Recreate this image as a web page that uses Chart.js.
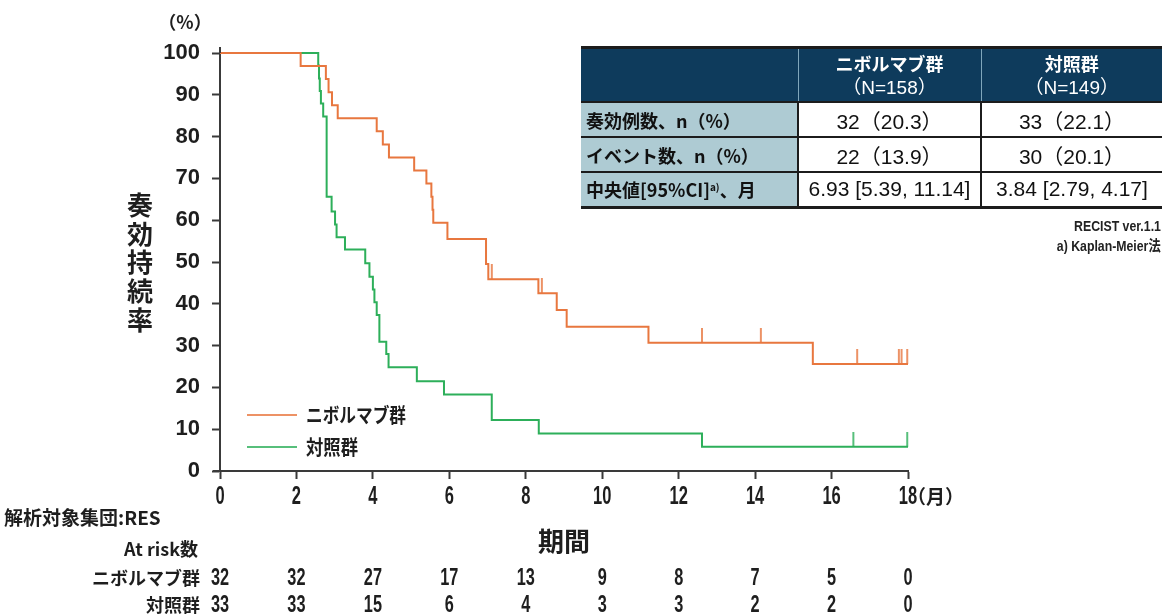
<!DOCTYPE html>
<html lang="ja">
<head>
<meta charset="utf-8">
<title>奏効持続率</title>
<script src="https://cdn.jsdelivr.net/npm/chart.js@4.4.1/dist/chart.umd.min.js"></script>
<style>
  html, body { margin: 0; padding: 0; background: #fff; }
  #wrap { position: relative; width: 1164px; height: 615px; overflow: hidden; }
  #c { position: absolute; left: 0; top: 0; }
  #summary {
    position: absolute; left: 581px; top: 46px; width: 581px;
    border-collapse: collapse; table-layout: fixed;
    font-family: 'Liberation Sans', Arial, 'Noto Sans CJK JP', sans-serif; color: #111;
  }
  #summary th, #summary td { padding: 0; text-align: center; vertical-align: middle; border-bottom: 2px solid #1c1c1c; }
  #summary thead th {
    background: #0e3b5c; color: #fff; font-weight: bold; font-size: 18px; line-height: 23px;
    height: 52px; border-top: 3px solid #1c1c1c;
    font-family: 'Noto Sans CJK JP', sans-serif;
  }
  #summary thead th .n { font-family: 'Liberation Sans', Arial, 'Noto Sans CJK JP', sans-serif; font-size: 19px; font-weight: normal; }
  #summary thead th + th { border-left: 1px solid #7fa6bb; }
  #summary tbody th {
    background: #aecbd3; text-align: left; padding-left: 5px; font-size: 18px; font-weight: bold;
    font-family: 'Noto Sans CJK JP', sans-serif; white-space: nowrap;
  }
  #summary tbody th sup { font-size: 10px; font-weight: bold; vertical-align: 6px; line-height: 0; }
  #summary tbody td { font-size: 21px; border-left: 2px solid #1c1c1c; background: #fff; white-space: nowrap; }
  #summary tbody tr { height: 35px; }
  #summary tbody tr.last > * { border-bottom: 3px solid #1c1c1c; }
  .note {
    position: absolute; right: 3px; font-size: 15px; font-weight: bold; color: #222;
    font-family: 'Liberation Sans', Arial, 'Noto Sans CJK JP', sans-serif;
    white-space: nowrap; transform: scaleX(0.82); transform-origin: right center;
  }
</style>
</head>
<body>
<div id="wrap">
  <canvas id="c" width="1164" height="615"></canvas>
  <table id="summary"></table>
  <div class="note" style="top:217px">RECIST ver.1.1</div>
  <div class="note" style="top:234px">a) Kaplan-Meier法</div>
</div>
<script>
// ---- Kaplan-Meier step data (months, % still responding) ----
const monthTicks = [0, 2, 4, 6, 8, 10, 12, 14, 16, 18];

const nivoTimes = [0, 2.11, 2.77, 2.84, 2.93, 3.08, 4.10, 4.26, 4.42, 5.08, 5.40, 5.53, 5.56, 5.58, 5.95, 6.96, 7.02, 8.33, 8.81, 9.07, 11.21, 15.51, 18];
const nivoRate  = [100, 96.9, 93.8, 90.6, 87.5, 84.4, 81.3, 78.1, 75.0, 71.9, 68.8, 65.6, 62.5, 59.4, 55.5, 49.5, 45.9, 42.5, 38.5, 34.5, 30.7, 25.6, 25.6];
const nivoCensor = [7.11, 8.42, 12.61, 14.15, 16.67, 17.76, 17.83, 17.98];

const ctrlTimes = [0, 2.57, 2.59, 2.61, 2.64, 2.70, 2.79, 2.92, 3.01, 3.05, 3.27, 3.80, 3.91, 4.00, 4.04, 4.10, 4.17, 4.35, 4.41, 5.15, 5.86, 7.11, 8.34, 12.61, 18];
const ctrlRate  = [100, 97.0, 93.9, 90.9, 87.9, 84.8, 65.6, 62.1, 59.0, 55.9, 53.0, 49.7, 46.5, 43.4, 40.4, 37.3, 30.9, 28.0, 24.8, 21.5, 18.3, 12.2, 9.0, 5.8, 5.8];
const ctrlCensor = [16.57, 17.98];

// ---- number at risk ----
const nivoAtRisk = [32, 32, 27, 17, 13, 9, 8, 7, 5, 0];
const ctrlAtRisk = [33, 33, 15, 6, 4, 3, 3, 2, 2, 0];

// ---- summary table ----
const groupNames = ['ニボルマブ群', '対照群'];
const groupN = [158, 149];
const responders = [32, 33];
const responderPct = ['20.3', '22.1'];
const events = [22, 30];
const eventPct = ['13.9', '20.1'];
const medianMonths = ['6.93', '3.84'];
const ciLow = ['5.39', '2.79'];
const ciHigh = ['11.14', '4.17'];

const ORANGE = '#e8773f';
const GREEN = '#2daf5a';
const AXIS = '#3a3a3a';
const INK = '#1e1e1e';
const SANS = "'Liberation Sans', Arial, 'Noto Sans CJK JP', sans-serif";
const CJK = "'Noto Sans CJK JP', sans-serif";

// build summary table
(function buildTable() {
  const t = document.getElementById('summary');
  let h = '<colgroup><col style="width:217px"><col style="width:183px"><col style="width:181px"></colgroup>';
  h += '<thead><tr><th></th>';
  groupNames.forEach((g, i) => { h += `<th>${g}<br><span class="n">（N=${groupN[i]}）</span></th>`; });
  h += '</tr></thead><tbody>';
  h += '<tr><th>奏効例数、n（%）</th>' + groupNames.map((_, i) => `<td>${responders[i]}（${responderPct[i]}）</td>`).join('') + '</tr>';
  h += '<tr><th>イベント数、n（%）</th>' + groupNames.map((_, i) => `<td>${events[i]}（${eventPct[i]}）</td>`).join('') + '</tr>';
  h += '<tr class="last"><th>中央値[95%CI]<sup>a)</sup>、月</th>' + groupNames.map((_, i) => `<td>${medianMonths[i]} [${ciLow[i]}, ${ciHigh[i]}]</td>`).join('') + '</tr>';
  h += '</tbody>';
  t.innerHTML = h;
})();

function stepPoints(times, rates) {
  return times.map((t, i) => ({ x: t, y: rates[i] }));
}
// level of a step curve at time t
function levelAt(times, rates, t) {
  let v = rates[0];
  for (let i = 0; i < times.length; i++) { if (times[i] <= t) v = rates[i]; }
  return v;
}
function censorPoints(times, rates, cens) {
  return cens.map(t => ({ x: t, y: levelAt(times, rates, t) }));
}
// upward censor tick: drawn centred on the point, ink only in the upper half
function censorMark(color) {
  const cv = document.createElement('canvas');
  cv.width = 4; cv.height = 30;
  const g = cv.getContext('2d');
  g.strokeStyle = color; g.lineWidth = 1.6;
  g.beginPath(); g.moveTo(2, 0); g.lineTo(2, 15); g.stroke();
  return cv;
}
// horizontally condensed text
function narrowText(ctx, text, x, y, sx) {
  ctx.save();
  ctx.translate(x, y);
  ctx.scale(sx, 1);
  ctx.fillText(text, 0, 0);
  ctx.restore();
}

const extras = {
  id: 'extras',
  afterDraw(chart) {
    const { ctx, chartArea: a, scales: { x } } = chart;
    ctx.save();
    ctx.fillStyle = INK;
    ctx.textBaseline = 'middle';

    // axis line extensions
    ctx.strokeStyle = AXIS; ctx.lineWidth = 2;
    ctx.beginPath(); ctx.moveTo(a.left, a.top); ctx.lineTo(a.left, a.top - 6); ctx.stroke();
    ctx.beginPath(); ctx.moveTo(a.left, a.bottom); ctx.lineTo(a.left - 7, a.bottom); ctx.stroke();

    // unit of y
    ctx.textAlign = 'center';
    ctx.font = `bold 18px ${CJK}`;
    ctx.fillText('（%）', 185, 22);

    // y title, upright stacked characters
    ctx.font = `bold 26px ${CJK}`;
    const yTitle = '奏効持続率';
    [...yTitle].forEach((ch, i) => ctx.fillText(ch, 140, 205 + i * 28.8));

    // x tick labels (condensed)
    ctx.font = `bold 25px ${SANS}`;
    monthTicks.forEach(m => narrowText(ctx, String(m), x.getPixelForValue(m), 497, 0.66));
    // month unit after the last tick
    ctx.textAlign = 'left';
    ctx.font = `bold 19px ${CJK}`;
    ctx.fillText('（月）', x.getPixelForValue(18) - 1, 497);

    // x title
    ctx.textAlign = 'center';
    ctx.font = `bold 26px ${CJK}`;
    ctx.fillText('期間', (a.left + a.right) / 2, 541);

    // population
    ctx.textAlign = 'left';
    ctx.font = `bold 19px ${CJK}`;
    ctx.fillText('解析対象集団:RES', 4, 518, 162);

    // at-risk table
    ctx.textAlign = 'right';
    ctx.font = `bold 18px ${CJK}`;
    ctx.fillText('At risk数', 198, 549, 78);
    ctx.fillText(groupNames[0], 200, 578, 108);
    ctx.fillText(groupNames[1], 200, 605, 60);
    ctx.textAlign = 'center';
    ctx.font = `bold 24px ${SANS}`;
    monthTicks.forEach((m, i) => {
      const px = x.getPixelForValue(m);
      narrowText(ctx, String(nivoAtRisk[i]), px, 578, 0.68);
      narrowText(ctx, String(ctrlAtRisk[i]), px, 605, 0.68);
    });

    // legend
    const lx = a.left + 27, ly1 = a.bottom - 56, ly2 = a.bottom - 24;
    ctx.lineWidth = 2.2;
    ctx.strokeStyle = ORANGE; ctx.globalAlpha = 0.8;
    ctx.beginPath(); ctx.moveTo(lx, ly1); ctx.lineTo(lx + 50, ly1); ctx.stroke();
    ctx.strokeStyle = GREEN;
    ctx.beginPath(); ctx.moveTo(lx, ly2); ctx.lineTo(lx + 50, ly2); ctx.stroke();
    ctx.globalAlpha = 1;
    ctx.textAlign = 'left';
    ctx.font = `bold 20px ${CJK}`;
    ctx.fillText(groupNames[0], lx + 59, ly1, 100);
    ctx.fillText(groupNames[1], lx + 59, ly2, 52);

    ctx.restore();
  }
};

new Chart(document.getElementById('c'), {
  type: 'line',
  data: {
    datasets: [
      { label: groupNames[0], data: stepPoints(nivoTimes, nivoRate), borderColor: ORANGE, borderWidth: 2,
        stepped: 'before', pointRadius: 0, fill: false, clip: 12 },
      { label: groupNames[1], data: stepPoints(ctrlTimes, ctrlRate), borderColor: GREEN, borderWidth: 2,
        stepped: 'before', pointRadius: 0, fill: false, clip: 12 },
      { label: groupNames[0] + ' censored', type: 'scatter', data: censorPoints(nivoTimes, nivoRate, nivoCensor),
        pointStyle: censorMark(ORANGE), pointRadius: 5, showLine: false, clip: 20 },
      { label: groupNames[1] + ' censored', type: 'scatter', data: censorPoints(ctrlTimes, ctrlRate, ctrlCensor),
        pointStyle: censorMark(GREEN), pointRadius: 5, showLine: false, clip: 20 }
    ]
  },
  options: {
    responsive: false,
    animation: false,
    devicePixelRatio: 1,
    layout: { padding: { left: 0, right: 256, top: 53, bottom: 0 } },
    plugins: { legend: { display: false }, tooltip: { enabled: false } },
    events: [],
    scales: {
      x: {
        type: 'linear', min: 0, max: 18,
        afterBuildTicks: s => { s.ticks = monthTicks.map(v => ({ value: v })); },
        afterFit: s => { s.height = 144; },
        border: { display: true, color: AXIS, width: 2 },
        grid: { drawOnChartArea: false, drawTicks: true, tickLength: 8, tickColor: AXIS, tickWidth: 2 },
        ticks: { display: false }
      },
      y: {
        min: 0, max: 100,
        ticks: { stepSize: 10, color: INK, padding: 12, font: { family: SANS, size: 22, weight: 'bold' } },
        afterFit: s => { s.width = 220; },
        border: { display: true, color: AXIS, width: 2 },
        grid: { drawOnChartArea: false, drawTicks: true, tickLength: 8, tickColor: AXIS, tickWidth: 2 }
      }
    }
  },
  plugins: [extras]
});
</script>
</body>
</html>
